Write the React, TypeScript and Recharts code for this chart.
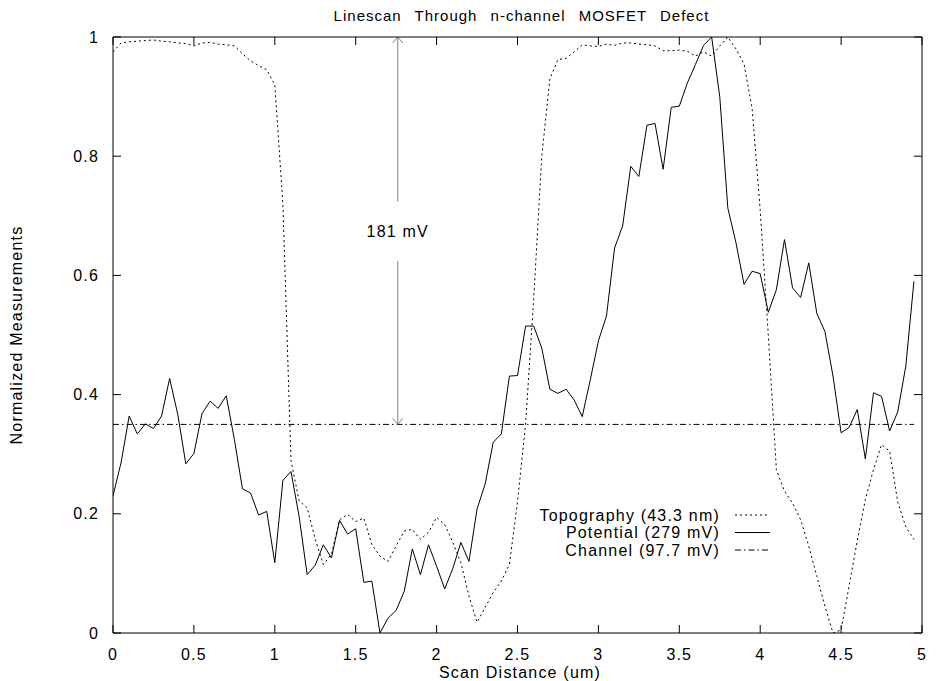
import React from 'react';
import { LineChart, Line, XAxis, YAxis, ReferenceLine, ReferenceDot } from 'recharts';

const scanX = [
  0, 0.05, 0.1, 0.15, 0.2, 0.25, 0.3, 0.35, 0.4, 0.45,
  0.5, 0.55, 0.6, 0.65, 0.7, 0.75, 0.8, 0.85, 0.9, 0.95,
  1.0, 1.05, 1.1, 1.15, 1.2, 1.25, 1.3, 1.35, 1.4, 1.45,
  1.5, 1.55, 1.6, 1.65, 1.7, 1.75, 1.8, 1.85, 1.9, 1.95,
  2.0, 2.05, 2.1, 2.15, 2.2, 2.25, 2.3, 2.35, 2.4, 2.45,
  2.5, 2.55, 2.6, 2.65, 2.7, 2.75, 2.8, 2.85, 2.9, 2.95,
  3.0, 3.05, 3.1, 3.15, 3.2, 3.25, 3.3, 3.35, 3.4, 3.45,
  3.5, 3.55, 3.6, 3.65, 3.7, 3.75, 3.8, 3.85, 3.9, 3.95,
  4.0, 4.05, 4.1, 4.15, 4.2, 4.25, 4.3, 4.35, 4.4, 4.45,
  4.5, 4.55, 4.6, 4.65, 4.7, 4.75, 4.8, 4.85, 4.9, 4.95,
];

const topography = [
  0.975, 0.99, 0.992, 0.993, 0.994, 0.995, 0.993, 0.992, 0.99, 0.989,
  0.985, 0.99, 0.991, 0.988, 0.987, 0.985, 0.972, 0.96, 0.952, 0.945,
  0.92, 0.72, 0.29, 0.222, 0.21, 0.157, 0.115, 0.132, 0.19, 0.199,
  0.187, 0.193, 0.148, 0.129, 0.12, 0.146, 0.171, 0.174, 0.157, 0.169,
  0.194, 0.182, 0.152, 0.118, 0.062, 0.018, 0.043, 0.068, 0.087, 0.115,
  0.22, 0.35, 0.56, 0.8, 0.93, 0.962, 0.964, 0.975, 0.987, 0.985,
  0.984, 0.988, 0.986, 0.99, 0.99, 0.988, 0.987, 0.985, 0.977, 0.977,
  0.978, 0.976, 0.968, 0.975, 0.968, 0.985, 1.0, 0.98, 0.955, 0.88,
  0.71, 0.5, 0.274, 0.238, 0.218, 0.19, 0.146, 0.095, 0.045, 0.0,
  0.005, 0.08, 0.155, 0.224, 0.274, 0.316, 0.305, 0.22, 0.178, 0.157,
];

const potential = [
  0.23, 0.286, 0.364, 0.334, 0.351, 0.343, 0.364, 0.427, 0.367, 0.284,
  0.301, 0.368, 0.389, 0.377, 0.398, 0.325, 0.242, 0.235, 0.198, 0.204,
  0.118, 0.256, 0.271, 0.196, 0.098, 0.114, 0.148, 0.126, 0.189, 0.166,
  0.175, 0.085, 0.087, 0.0, 0.025, 0.038, 0.07, 0.141, 0.098, 0.148,
  0.112, 0.074, 0.108, 0.152, 0.12, 0.208, 0.25, 0.32, 0.334, 0.431,
  0.432, 0.515, 0.515, 0.478, 0.409, 0.402, 0.409, 0.391, 0.363, 0.425,
  0.49, 0.532, 0.646, 0.683, 0.783, 0.766, 0.852, 0.855, 0.778, 0.882,
  0.884, 0.923, 0.954, 0.986, 1.0, 0.9, 0.713, 0.655, 0.585, 0.607,
  0.603, 0.538, 0.576, 0.66, 0.579, 0.563, 0.621, 0.536, 0.506, 0.431,
  0.336, 0.345, 0.375, 0.292, 0.403, 0.397, 0.339, 0.371, 0.448, 0.59,
];

const channelX = [0, 4.95];
const channelValues = [0.35, 0.35];

const xTicks = [0, 0.5, 1, 1.5, 2, 2.5, 3, 3.5, 4, 4.5, 5];
const yTicks = [0, 0.2, 0.4, 0.6, 0.8, 1];

const seriesNames = ['Topography (43.3 nm)', 'Potential (279 mV)', 'Channel (97.7 mV)'];
const annotation = { x: 1.76, top: 1, bottom: 0.35, gapTop: 0.724, gapBottom: 0.624, labelY: 0.674, text: '181 mV' };
const titleText = 'Linescan Through n-channel MOSFET Defect';
const xLabel = 'Scan Distance (um)';
const yLabel = 'Normalized Measurements';

const data = scanX.map((x, i) => ({ x, topography: topography[i], potential: potential[i] }));
const channelData = channelX.map((x, i) => ({ x, channel: channelValues[i] }));

const FONT = '"Liberation Sans", Arial, Helvetica, sans-serif';
const ARROW = '#808080';
const LS = '1.2px';
const TICK_LEN = 8;
const X_MARGIN = 16;
const Y_MARGIN = 14;

const dashes = ['2 3', undefined, '6 3 1.5 3'];

const arrowShape = (headAt: 'top' | 'bottom') => (props: any) => {
  const { x1, y1, x2, y2 } = props;
  const top = Math.min(y1, y2);
  const bot = Math.max(y1, y2);
  const hx = x1;
  const hy = headAt === 'top' ? top : bot;
  const d = headAt === 'top' ? 1 : -1;
  return (
    <g>
      <line x1={x1} y1={top} x2={x2} y2={bot} stroke={ARROW} strokeWidth={1} />
      <polyline points={`${hx - 5},${hy + 6 * d} ${hx},${hy} ${hx + 5},${hy + 6 * d}`} fill="none" stroke={ARROW} strokeWidth={1} />
    </g>
  );
};

const BottomTick = (props: any) => {
  const { x, y, payload } = props;
  const axisY = y - X_MARGIN;
  return (
    <g>
      <line x1={x} y1={axisY} x2={x} y2={axisY - TICK_LEN} stroke="#000" strokeWidth={1} />
      <text x={x} y={y} dy="0.71em" textAnchor="middle" fontFamily={FONT} fontSize={16} fill="#000" style={{ letterSpacing: LS }}>
        {String(payload.value)}
      </text>
    </g>
  );
};

const LeftTick = (props: any) => {
  const { x, y, payload } = props;
  const axisX = x + Y_MARGIN;
  return (
    <g>
      <line x1={axisX} y1={y} x2={axisX + TICK_LEN} y2={y} stroke="#000" strokeWidth={1} />
      <text x={x} y={y} dy="0.355em" textAnchor="end" fontFamily={FONT} fontSize={16} fill="#000" style={{ letterSpacing: LS }}>
        {String(payload.value)}
      </text>
    </g>
  );
};

const TopTick = (props: any) => {
  const { x, y } = props;
  return <line x1={x} y1={y} x2={x} y2={y + TICK_LEN} stroke="#000" strokeWidth={1} />;
};

const RightTick = (props: any) => {
  const { x, y } = props;
  return <line x1={x} y1={y} x2={x - TICK_LEN} y2={y} stroke="#000" strokeWidth={1} />;
};

export default function App() {
  return (
    <div style={{ position: 'absolute', left: 0, top: 0, width: 937, height: 681, background: '#fff' }}>
      <LineChart width={937} height={681} data={data} margin={{ top: 36, right: 14, bottom: 18, left: 73 }}>
        <XAxis xAxisId="b" dataKey="x" type="number" domain={[0, 5]} ticks={xTicks} interval={0}
          height={30} tickSize={0} tickMargin={X_MARGIN} tick={<BottomTick />} tickLine={false}
          axisLine={{ stroke: '#000', strokeWidth: 1 }} allowDataOverflow />
        <XAxis xAxisId="t" orientation="top" dataKey="x" type="number" domain={[0, 5]} ticks={xTicks} interval={0}
          height={1} tickSize={0} tickMargin={0} tick={<TopTick />} tickLine={false}
          axisLine={{ stroke: '#000', strokeWidth: 1 }} allowDataOverflow />
        <YAxis yAxisId="l" type="number" domain={[0, 1]} ticks={yTicks} interval={0}
          width={40} tickSize={0} tickMargin={Y_MARGIN} tick={<LeftTick />} tickLine={false}
          axisLine={{ stroke: '#000', strokeWidth: 1 }} allowDataOverflow />
        <YAxis yAxisId="r" orientation="right" type="number" domain={[0, 1]} ticks={yTicks} interval={0}
          width={1} tickSize={0} tickMargin={0} tick={<RightTick />} tickLine={false}
          axisLine={{ stroke: '#000', strokeWidth: 1 }} allowDataOverflow />
        <Line xAxisId="b" yAxisId="l" type="linear" dataKey="topography" name={seriesNames[0]} stroke="#000" strokeWidth={1}
          strokeDasharray={dashes[0]} dot={false} activeDot={false} isAnimationActive={false} />
        <Line xAxisId="b" yAxisId="l" type="linear" dataKey="potential" name={seriesNames[1]} stroke="#000" strokeWidth={1}
          dot={false} activeDot={false} isAnimationActive={false} />
        <Line xAxisId="b" yAxisId="l" type="linear" data={channelData} dataKey="channel" name={seriesNames[2]} stroke="#000" strokeWidth={1}
          strokeDasharray={dashes[2]} dot={false} activeDot={false} isAnimationActive={false} />
        <ReferenceLine xAxisId="b" yAxisId="l" segment={[{ x: annotation.x, y: annotation.top }, { x: annotation.x, y: annotation.gapTop }]}
          shape={arrowShape('top')} />
        <ReferenceLine xAxisId="b" yAxisId="l" segment={[{ x: annotation.x, y: annotation.gapBottom }, { x: annotation.x, y: annotation.bottom }]}
          shape={arrowShape('bottom')} />
        <ReferenceDot xAxisId="b" yAxisId="l" x={annotation.x} y={annotation.labelY} r={0} fill="none" stroke="none"
          label={{ value: annotation.text, position: 'center', fill: '#000', fontSize: 16, fontFamily: FONT, style: { letterSpacing: LS } }} />
      </LineChart>
      <svg width={937} height={681} style={{ position: 'absolute', left: 0, top: 0, pointerEvents: 'none' }}>
        <text x={521.5} y={21} textAnchor="middle" fontFamily={FONT} fontSize={15} fill="#000"
          style={{ letterSpacing: '1px', wordSpacing: '8px' }}>
          {titleText}
        </text>
        <text x={520} y={678} textAnchor="middle" fontFamily={FONT} fontSize={16} fill="#000" style={{ letterSpacing: LS }}>{xLabel}</text>
        <text x={16} y={335} textAnchor="middle" dominantBaseline="central" fontFamily={FONT} fontSize={16} fill="#000"
          style={{ letterSpacing: LS }} transform="rotate(-90 16 335)">{yLabel}</text>
        {seriesNames.map((name, i) => {
          const cy = 515 + i * 17.5;
          return (
            <g key={name}>
              <text x={720} y={cy} textAnchor="end" dominantBaseline="central" fontFamily={FONT} fontSize={16} fill="#000" style={{ letterSpacing: LS }}>{name}</text>
              <line x1={735} y1={cy} x2={770} y2={cy} stroke="#000" strokeWidth={1} strokeDasharray={dashes[i]} />
            </g>
          );
        })}
      </svg>
    </div>
  );
}
